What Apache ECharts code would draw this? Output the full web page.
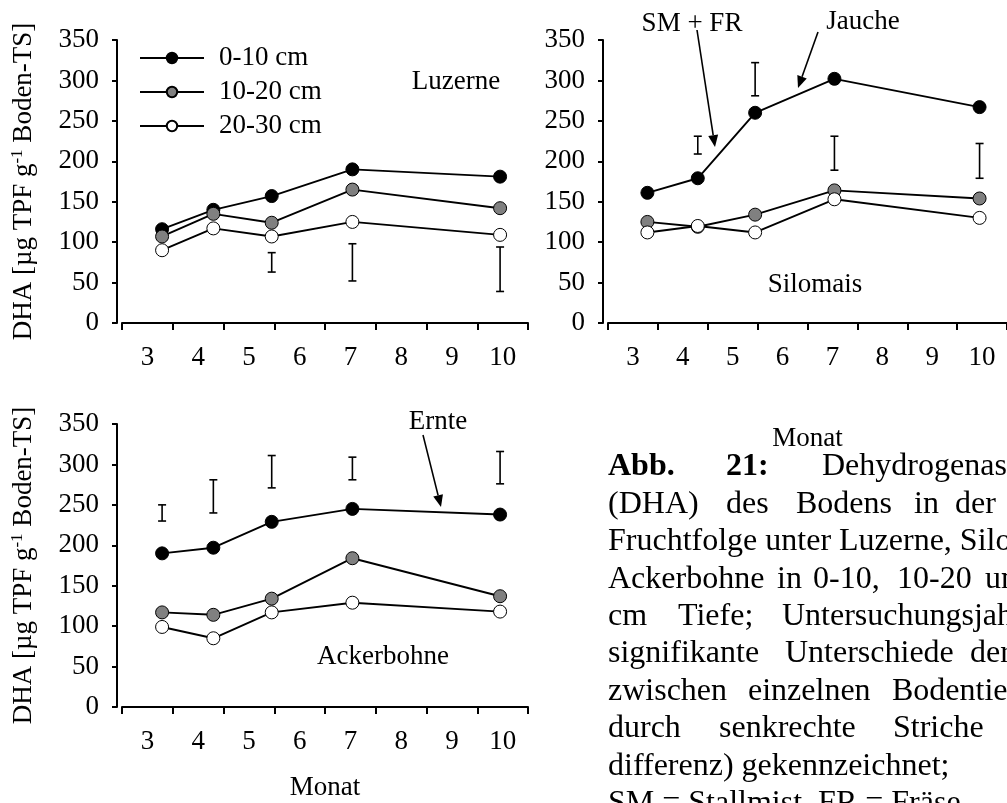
<!DOCTYPE html>
<html>
<head>
<meta charset="utf-8">
<script src="https://cdn.jsdelivr.net/npm/echarts@6/dist/echarts.min.js"></script>
<style>
  html, body { margin: 0; padding: 0; background: #ffffff; }
  #chart { width: 1007px; height: 803px; }
</style>
</head>
<body>
<div id="chart"></div>
<script>
// Month tick labels and sampling dates (fractional months)
const monthLabels = ['3', '4', '5', '6', '7', '8', '9', '10'];
const sampleMonths = [3.29, 4.3, 5.45, 7.04, 9.95];
const depthNames = ['0-10 cm', '10-20 cm', '20-30 cm'];
const depthColors = ['#000000', '#808080', '#ffffff'];

// DHA [µg TPF g-1 Boden-TS] under Luzerne
const luzerne0 = [116, 140, 157, 190, 181];
const luzerne1 = [107, 135, 124, 165, 142];
const luzerne2 = [90, 117, 107, 125, 109];
const luzerneLsdLow = [null, null, 63, 52, 39];
const luzerneLsdHigh = [null, null, 87, 98, 94];

// Silomais
const silomais0 = [161, 179, 260, 302, 267];
const silomais1 = [125, 119, 134, 164, 154];
const silomais2 = [112, 120, 112, 153, 130];
const silomaisLsdLow = [null, 209, 281, 189, 179];
const silomaisLsdHigh = [null, 231, 322, 231, 222];

// Ackerbohne
const ackerbohne0 = [190, 197, 229, 245, 238];
const ackerbohne1 = [117, 114, 134, 184, 137];
const ackerbohne2 = [99, 85, 117, 129, 118];
const ackerbohneLsdLow = [230, 240, 271, 281, 276];
const ackerbohneLsdHigh = [250, 281, 311, 309, 316];

const yTicks = { min: 0, max: 350, interval: 50 };

const FONT = '"Liberation Serif", "Times New Roman", serif';
const FS = 27;

const panels = [
  { depths: [luzerne0, luzerne1, luzerne2], lo: luzerneLsdLow, hi: luzerneLsdHigh,
    grid: { left: 122, top: 40, width: 406, height: 283 }, yName: true, xName: null },
  { depths: [silomais0, silomais1, silomais2], lo: silomaisLsdLow, hi: silomaisLsdHigh,
    grid: { left: 608, top: 40, width: 406, height: 283 }, yName: false, xName: 102 },
  { depths: [ackerbohne0, ackerbohne1, ackerbohne2], lo: ackerbohneLsdLow, hi: ackerbohneLsdHigh,
    grid: { left: 122, top: 424, width: 406, height: 283 }, yName: true, xName: 67 }
];

const axisLineStyle = { color: '#000', width: 2 };

const grids = [], xAxes = [], yAxes = [], series = [];

panels.forEach((p, i) => {
  grids.push(p.grid);
  // visible month axis: labels centred between tick marks
  xAxes.push({
    type: 'category', gridIndex: i, data: monthLabels, boundaryGap: true,
    axisLine: { show: true, lineStyle: axisLineStyle },
    axisTick: { show: true, interval: 0, alignWithLabel: false, length: 7, lineStyle: axisLineStyle },
    axisLabel: { interval: 0, fontFamily: FONT, fontSize: FS, color: '#000', margin: 21 },
    splitLine: { show: false },
    name: p.xName !== null ? 'Monat' : '',
    nameLocation: 'middle', nameGap: p.xName || 0,
    nameTextStyle: { fontFamily: FONT, fontSize: FS, color: '#000' }
  });
  // continuous month scale used for placing the measurements
  xAxes.push({ type: 'value', gridIndex: i, min: 2.5, max: 10.5, show: false });
  yAxes.push({
    type: 'value', gridIndex: i, min: yTicks.min, max: yTicks.max, interval: yTicks.interval,
    offset: 5,
    axisLine: { show: true, lineStyle: axisLineStyle },
    axisTick: { show: true, length: 5, lineStyle: axisLineStyle },
    axisLabel: { fontFamily: FONT, fontSize: FS, color: '#000', margin: 18 },
    splitLine: { show: false },
    name: p.yName ? '{t|DHA [µg TPF g}{s|-1}{t| Boden-TS]}' : '',
    nameLocation: 'middle', nameGap: 78,
    nameTextStyle: {
      color: '#000',
      rich: {
        t: { fontFamily: FONT, fontSize: FS, color: '#000', lineHeight: 30 },
        s: { fontFamily: FONT, fontSize: 17, color: '#000', verticalAlign: 'top', lineHeight: 30 }
      }
    }
  });

  // LSD bars (Grenzdifferenz)
  const lsd = [];
  sampleMonths.forEach((m, k) => {
    if (p.lo[k] !== null) lsd.push([m, p.lo[k], p.hi[k]]);
  });
  series.push({
    type: 'custom', xAxisIndex: 2 * i + 1, yAxisIndex: i, data: lsd,
    encode: { x: 0, y: [1, 2] }, silent: true,
    renderItem: function (params, api) {
      const x = api.value(0);
      const top = api.coord([x, api.value(2)]);
      const bot = api.coord([x, api.value(1)]);
      const c = 4;
      const st = { stroke: '#000', lineWidth: 1.6, fill: null };
      return {
        type: 'group',
        children: [
          { type: 'line', shape: { x1: top[0], y1: top[1], x2: bot[0], y2: bot[1] }, style: st },
          { type: 'line', shape: { x1: top[0] - c, y1: top[1], x2: top[0] + c, y2: top[1] }, style: st },
          { type: 'line', shape: { x1: bot[0] - c, y1: bot[1], x2: bot[0] + c, y2: bot[1] }, style: st }
        ]
      };
    }
  });

  p.depths.forEach((vals, d) => {
    series.push({
      name: depthNames[d], type: 'line', xAxisIndex: 2 * i + 1, yAxisIndex: i,
      data: sampleMonths.map((m, k) => [m, vals[k]]),
      symbol: 'circle', symbolSize: 13,
      itemStyle: { color: depthColors[d], borderColor: '#000', borderWidth: 1 },
      lineStyle: { color: '#000', width: 1.9 },
      emphasis: { disabled: true }
    });
  });
});

// arrow annotation helper
function arrow(x1, y1, x2, y2) {
  const dx = x2 - x1, dy = y2 - y1, len = Math.hypot(dx, dy);
  const ux = dx / len, uy = dy / len, hl = 12, hw = 5;
  const bx = x2 - ux * hl, by = y2 - uy * hl;
  return [
    { type: 'line', shape: { x1: x1, y1: y1, x2: bx, y2: by }, style: { stroke: '#000', lineWidth: 1.6 } },
    { type: 'polygon', shape: { points: [[x2, y2], [bx - uy * hw, by + ux * hw], [bx + uy * hw, by - ux * hw]] },
      style: { fill: '#000' } }
  ];
}

function label(text, x, y, opts) {
  return Object.assign({
    type: 'text', x: x, y: y,
    style: { text: text, font: FS + 'px ' + FONT, fill: '#000', align: 'center', verticalAlign: 'middle' }
  }, opts || {});
}

const graphics = [
  label('Luzerne', 456, 82),
  label('Silomais', 815, 285),
  label('Ackerbohne', 383, 657),
  label('SM + FR', 692, 24),
  label('Jauche', 863, 22),
  label('Ernte', 438, 422)
].concat(arrow(697, 30, 715, 147), arrow(818, 32, 798, 88), arrow(423, 435, 441, 507));

// figure caption (justified block)
const CAP = 32, capTop = 467, capStep = 37.4;
const captionLines = [
  [['Abb.', 608, true], ['21:', 726, true], ['Dehydrogenase', 822]],
  [['(DHA)', 608], ['des', 726], ['Bodens', 796], ['in', 914], ['der', 955]],
  [['Fruchtfolge unter Luzerne, Silomais,', 608]],
  [['Ackerbohne', 608], ['in', 777], ['0-10,', 813], ['10-20', 897], ['und', 985]],
  [['cm', 608], ['Tiefe;', 678], ['Untersuchungsjahr', 782]],
  [['signifikante', 608], ['Unterschiede', 785], ['der', 970]],
  [['zwischen', 608], ['einzelnen', 748], ['Bodentiefen', 892]],
  [['durch', 608], ['senkrechte', 719], ['Striche', 893]],
  [['differenz) gekennzeichnet;', 608]],
  [['SM = Stallmist, FR = Fräse', 608]]
];
captionLines.forEach((line, li) => {
  line.forEach(w => {
    graphics.push({
      type: 'text', x: w[1], y: capTop + li * capStep,
      style: {
        text: w[0], font: (w[2] ? 'bold ' : '') + CAP + 'px ' + FONT,
        fill: '#000', align: 'left', verticalAlign: 'middle'
      }
    });
  });
});

const chart = echarts.init(document.getElementById('chart'), null, { renderer: 'canvas' });
chart.setOption({
  animation: false,
  backgroundColor: '#ffffff',
  textStyle: { fontFamily: FONT },
  grid: grids,
  xAxis: xAxes,
  yAxis: yAxes,
  legend: {
    data: depthNames, orient: 'vertical', left: 139, top: 44, padding: 0,
    itemWidth: 64, itemHeight: 13, itemGap: 6, selectedMode: false,
    textStyle: { fontFamily: FONT, fontSize: FS, color: '#000', padding: [0, 0, 0, 10], lineHeight: 28 }
  },
  series: series,
  graphic: graphics
});
</script>
</body>
</html>
